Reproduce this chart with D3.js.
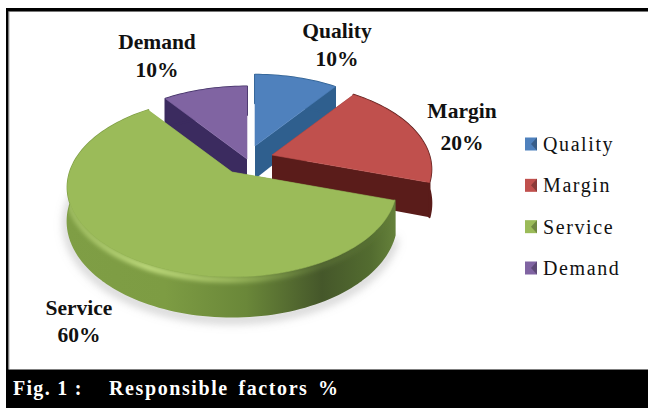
<!DOCTYPE html>
<html>
<head>
<meta charset="utf-8">
<style>
  html, body { margin: 0; padding: 0; background: #fff; }
  svg { display: block; }
</style>
<script src="https://cdn.jsdelivr.net/npm/d3@7"></script>
</head>
<body>
<svg id="chart"></svg>
<script>
// Slice data
const categories = ["Quality", "Margin", "Service", "Demand"];
const values = [10, 20, 60, 10];

// Slice colours
const topColors = ["#4f81bd", "#c0504d", "#9bbb59", "#8064a2"];
const wallColors = ["#2f5f8e", "#5a1c1a", "url(#serviceWall)", "#3b2b5f"];

// Where each slice's tip sits after exploding, and how much it shrinks
const tips = [[255, 146], [272, 155], [232, 172], [247, 159]];
const shrink = [0.95, 0.97, 1, 0.97];

// Label anchors
const labelPos = [[337, 38], [462, 118], [79, 315], [157, 49]];
const labelGap = [28, 32, 27, 28];

const width = 648;
const height = 408;

// Tilted disc with a little perspective
const rx = 162;
const ry = 87;
const persp = 0.17;
const depth = 33;

const svg = d3.select("#chart")
    .attr("width", width)
    .attr("height", height)
    .style("font-family", "'Liberation Serif', serif");

const defs = svg.append("defs");

// Soft filters for the rim highlight and ground shadow
defs.append("filter").attr("id", "soft")
    .attr("x", "-20%").attr("y", "-20%").attr("width", "140%").attr("height", "140%")
    .append("feGaussianBlur").attr("stdDeviation", 2.2);
defs.append("filter").attr("id", "shadow")
    .attr("x", "-20%").attr("y", "-20%").attr("width", "140%").attr("height", "140%")
    .append("feGaussianBlur").attr("stdDeviation", 5);

function hGradient(id, x1, x2, stops) {
    const g = defs.append("linearGradient").attr("id", id)
        .attr("gradientUnits", "userSpaceOnUse")
        .attr("x1", x1).attr("x2", x2).attr("y1", 0).attr("y2", 0);
    stops.forEach(s => g.append("stop").attr("offset", s[0]).attr("stop-color", s[1]).attr("stop-opacity", s[2] === undefined ? 1 : s[2]));
}

hGradient("serviceWall", 66, 394, [
    [0, "#7f9e45"], [0.3, "#7d9c43"], [0.55, "#6a8739"],
    [0.78, "#45572a"], [0.93, "#536c30"], [1, "#64803a"]
]);
hGradient("rimLight", 66, 394, [
    [0, "#bcd97a", 0.5], [0.25, "#c4e082", 0.95], [0.5, "#b4d070", 0.7],
    [0.75, "#8fae55", 0.25], [1, "#8fae55", 0]
]);

// Project a point on the unit disc (angle clockwise from 12 o'clock) to the page
function project(i, angle, r, drop) {
    const X = r * Math.sin(angle);
    const Y = -r * Math.cos(angle);
    const s = 1 / (1 - persp * Y);
    return [
        tips[i][0] + rx * X * s,
        tips[i][1] + ry * Y * s + (drop ? depth * s : 0)
    ];
}

const pie = d3.pie().sort(null).value(d => d);
const arcs = pie(values);
const line = d3.line();

function arcPoints(i, a0, a1, drop) {
    const n = Math.max(2, Math.ceil((a1 - a0) / 0.03));
    return d3.range(n + 1).map(k => project(i, a0 + (a1 - a0) * k / n, shrink[i], drop));
}

function topPath(i) {
    const a = arcs[i];
    return line([project(i, 0, 0, false), ...arcPoints(i, a.startAngle, a.endAngle, false)]) + "Z";
}

function outerWallPath(i) {
    const a = arcs[i];
    return line([...arcPoints(i, a.startAngle, a.endAngle, false), ...arcPoints(i, a.startAngle, a.endAngle, true).reverse()]) + "Z";
}

function radialWallPath(i, angle) {
    return line([
        project(i, 0, 0, false),
        project(i, angle, shrink[i], false),
        project(i, angle, shrink[i], true),
        project(i, 0, 0, true)
    ]) + "Z";
}

// Page frame
svg.append("rect").attr("x", 6).attr("y", 8).attr("width", width - 6).attr("height", 3).attr("fill", "#000");
svg.append("rect").attr("x", 6).attr("y", 11).attr("width", width - 6).attr("height", 1).attr("fill", "#777");
svg.append("rect").attr("x", 6).attr("y", 8).attr("width", 2.5).attr("height", 362).attr("fill", "#000");
svg.append("rect").attr("x", 8.5).attr("y", 11).attr("width", 0.8).attr("height", 358).attr("fill", "#777");

// Ground shadow under the large slice
const svcIdx = categories.indexOf("Service");
svg.append("path")
    .attr("d", line(arcPoints(svcIdx, arcs[svcIdx].startAngle, arcs[svcIdx].endAngle, true)))
    .attr("transform", "translate(0,3)")
    .attr("fill", "none")
    .attr("stroke", "#999")
    .attr("stroke-opacity", 0.55)
    .attr("stroke-width", 7)
    .attr("filter", "url(#shadow)");

// Slices painted back to front
const order = ["Quality", "Demand", "Margin", "Service"].map(c => categories.indexOf(c));
order.forEach(i => {
    const a = arcs[i];
    const g = svg.append("g").attr("class", "slice");

    [a.startAngle, a.endAngle].forEach(angle => {
        g.append("path").attr("d", radialWallPath(i, angle)).attr("fill", wallColors[i]);
    });
    g.append("path")
        .attr("d", outerWallPath(i))
        .attr("fill", wallColors[i])
        .attr("stroke", wallColors[i])
        .attr("stroke-width", 2)
        .attr("stroke-linejoin", "round");

    // Light band along the rim of the large slice
    if (i === svcIdx) {
        const clipId = "rimClip";
        defs.append("clipPath").attr("id", clipId)
            .append("path").attr("d", outerWallPath(i));
        g.append("g").attr("clip-path", `url(#${clipId})`)
            .append("path")
            .attr("d", line(arcPoints(i, a.startAngle, a.endAngle, false)))
            .attr("transform", "translate(0,3)")
            .attr("fill", "none")
            .attr("stroke", "url(#rimLight)")
            .attr("stroke-width", 6)
            .attr("filter", "url(#soft)");
    }

    g.append("path")
        .attr("d", topPath(i))
        .attr("fill", topColors[i])
        .attr("stroke", topColors[i])
        .attr("stroke-width", 0.6);
});

// Data labels
categories.forEach((c, i) => {
    const t = svg.append("text")
        .attr("text-anchor", "middle")
        .attr("font-weight", "bold")
        .attr("font-size", 21.5)
        .attr("fill", "#111");
    t.append("tspan").attr("x", labelPos[i][0]).attr("y", labelPos[i][1]).text(c);
    t.append("tspan").attr("x", labelPos[i][0]).attr("y", labelPos[i][1] + labelGap[i]).text(`${values[i]}%`);
});

// Legend
const legendRow = d3.scalePoint().domain(categories).range([144, 268]);
const legend = svg.append("g").selectAll("g").data(categories).join("g")
    .attr("transform", d => `translate(525,${legendRow(d)})`);
legend.append("rect")
    .attr("x", 0).attr("y", -6.5).attr("width", 12).attr("height", 13)
    .attr("fill", (d, i) => topColors[i]);
legend.append("path")
    .attr("d", "M12,-6.5L6,0L12,6.5Z")
    .attr("fill", (d, i) => d3.color(topColors[i]).darker(0.9));
legend.append("text")
    .attr("x", 18).attr("y", 7)
    .attr("font-size", 20)
    .attr("letter-spacing", 1.6)
    .attr("fill", "#111")
    .text(d => d);

// Caption band
svg.append("rect").attr("x", 6).attr("y", 369.5).attr("width", width - 6).attr("height", height - 369.5).attr("fill", "#000");
svg.append("text")
    .attr("x", 13).attr("y", 395)
    .attr("fill", "#fff").attr("font-weight", "bold").attr("font-size", 20).attr("letter-spacing", 1.3)
    .text("Fig. 1 :");
svg.append("text")
    .attr("x", 109).attr("y", 395)
    .attr("fill", "#fff").attr("font-weight", "bold").attr("font-size", 20).attr("letter-spacing", 1.6)
    .attr("word-spacing", 3)
    .text("Responsible factors %");
</script>
</body>
</html>
